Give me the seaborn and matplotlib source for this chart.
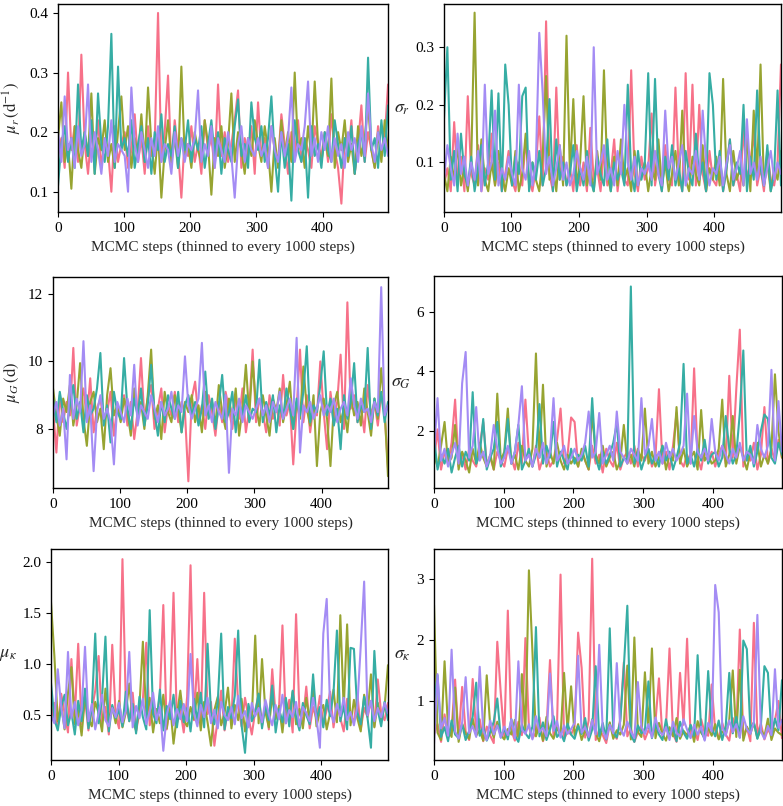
import numpy as np
import pandas as pd
import matplotlib
matplotlib.use('Agg')
import matplotlib.pyplot as plt
import seaborn as sns

# MCMC traces, one value every ~5 thinned steps per chain
CHAINS = ['chain 1', 'chain 2', 'chain 3', 'chain 4']

mu_r = [
    [0.16,0.19,0.14,0.30,0.17,0.21,0.15,0.33,0.18,0.13,0.20,0.16,0.22,0.14,0.19,0.17,0.10,0.21,0.15,0.18,
     0.20,0.14,0.17,0.23,0.15,0.19,0.13,0.21,0.16,0.18,0.40,0.15,0.20,0.295,0.14,0.22,0.17,0.09,0.19,0.16,
     0.21,0.15,0.18,0.13,0.22,0.17,0.19,0.14,0.28,0.16,0.20,0.15,0.18,0.22,0.27,0.14,0.19,0.16,0.21,0.13,
     0.25,0.16,0.19,0.14,0.21,0.17,0.15,0.23,0.18,0.13,0.20,0.16,0.22,0.15,0.19,0.17,0.14,0.21,0.18,0.16,
     0.20,0.15,0.23,0.17,0.14,0.08,0.19,0.16,0.22,0.13,0.18,0.245,0.15,0.20,0.17,0.14,0.21,0.16,0.19,0.28],
    [0.19,0.25,0.15,0.18,0.105,0.21,0.17,0.14,0.20,0.16,0.265,0.13,0.19,0.17,0.22,0.15,0.18,0.14,0.20,0.26,
     0.17,0.21,0.14,0.19,0.16,0.23,0.15,0.275,0.18,0.13,0.20,0.09,0.17,0.22,0.15,0.19,0.14,0.31,0.16,0.18,
     0.14,0.20,0.17,0.15,0.22,0.18,0.095,0.19,0.16,0.21,0.14,0.18,0.265,0.15,0.20,0.17,0.13,0.19,0.16,0.22,
     0.18,0.15,0.21,0.17,0.10,0.19,0.14,0.22,0.16,0.20,0.15,0.30,0.17,0.19,0.14,0.21,0.16,0.285,0.18,0.15,
     0.19,0.16,0.29,0.14,0.20,0.17,0.22,0.15,0.18,0.13,0.21,0.16,0.19,0.245,0.17,0.14,0.20,0.15,0.22,0.17],
    [0.11,0.18,0.21,0.15,0.19,0.14,0.28,0.17,0.20,0.16,0.22,0.13,0.265,0.18,0.15,0.21,0.365,0.14,0.31,0.17,
     0.19,0.16,0.22,0.14,0.18,0.21,0.15,0.19,0.13,0.20,0.17,0.23,0.15,0.18,0.16,0.21,0.14,0.19,0.17,0.22,
     0.15,0.19,0.17,0.21,0.14,0.18,0.22,0.16,0.20,0.13,0.19,0.17,0.15,0.21,0.255,0.16,0.18,0.14,0.25,0.19,
     0.17,0.21,0.15,0.19,0.26,0.16,0.10,0.20,0.14,0.18,0.085,0.22,0.17,0.15,0.19,0.09,0.21,0.16,0.18,0.14,
     0.20,0.17,0.15,0.22,0.18,0.14,0.19,0.16,0.21,0.13,0.18,0.20,0.15,0.325,0.17,0.19,0.14,0.22,0.16,0.245],
    [0.20,0.15,0.26,0.17,0.19,0.14,0.21,0.16,0.18,0.28,0.15,0.20,0.17,0.13,0.19,0.16,0.22,0.15,0.18,0.17,
     0.16,0.10,0.275,0.18,0.15,0.20,0.17,0.14,0.19,0.16,0.21,0.15,0.18,0.17,0.13,0.20,0.16,0.19,0.15,0.18,
     0.17,0.19,0.27,0.15,0.18,0.16,0.21,0.14,0.19,0.17,0.15,0.20,0.16,0.09,0.18,0.21,0.15,0.19,0.17,0.16,
     0.19,0.16,0.18,0.14,0.21,0.17,0.15,0.20,0.16,0.19,0.275,0.15,0.18,0.17,0.21,0.285,0.16,0.19,0.15,0.20,
     0.17,0.21,0.15,0.19,0.16,0.18,0.14,0.20,0.17,0.19,0.15,0.21,0.16,0.265,0.18,0.15,0.20,0.17,0.19,0.16],
]

sigma_r = [
    [0.06,0.09,0.05,0.17,0.07,0.11,0.05,0.215,0.08,0.06,0.13,0.05,0.09,0.07,0.15,0.06,0.10,0.05,0.08,0.12,
     0.07,0.05,0.10,0.06,0.14,0.07,0.05,0.09,0.18,0.06,0.345,0.08,0.05,0.23,0.07,0.11,0.06,0.09,0.05,0.13,
     0.06,0.10,0.05,0.16,0.07,0.09,0.05,0.12,0.06,0.08,0.14,0.05,0.10,0.07,0.06,0.26,0.08,0.05,0.11,0.07,
     0.09,0.185,0.06,0.10,0.05,0.13,0.07,0.06,0.23,0.08,0.05,0.255,0.07,0.235,0.06,0.20,0.08,0.05,0.12,0.07,
     0.06,0.11,0.05,0.09,0.14,0.06,0.08,0.05,0.16,0.07,0.10,0.15,0.06,0.09,0.05,0.12,0.07,0.06,0.10,0.27],
    [0.08,0.05,0.11,0.07,0.13,0.06,0.09,0.05,0.10,0.36,0.06,0.14,0.07,0.05,0.10,0.06,0.12,0.08,0.05,0.09,
     0.06,0.12,0.05,0.08,0.15,0.06,0.10,0.07,0.05,0.11,0.25,0.07,0.09,0.05,0.13,0.06,0.32,0.08,0.21,0.06,
     0.10,0.215,0.06,0.09,0.05,0.12,0.07,0.26,0.08,0.05,0.11,0.06,0.14,0.07,0.09,0.05,0.12,0.06,0.08,0.10,
     0.05,0.09,0.07,0.14,0.06,0.10,0.05,0.08,0.12,0.06,0.19,0.07,0.05,0.11,0.08,0.06,0.13,0.05,0.09,0.07,
     0.11,0.06,0.245,0.08,0.05,0.12,0.07,0.09,0.06,0.15,0.05,0.19,0.08,0.27,0.06,0.10,0.05,0.09,0.07,0.12],
    [0.175,0.30,0.07,0.12,0.05,0.15,0.08,0.06,0.11,0.05,0.09,0.13,0.06,0.10,0.225,0.07,0.22,0.05,0.27,0.20,
     0.06,0.11,0.08,0.215,0.23,0.05,0.10,0.07,0.12,0.06,0.09,0.21,0.05,0.14,0.07,0.10,0.06,0.08,0.13,0.05,
     0.09,0.06,0.12,0.07,0.05,0.11,0.08,0.06,0.14,0.05,0.10,0.07,0.09,0.06,0.235,0.08,0.05,0.12,0.07,0.10,
     0.255,0.06,0.245,0.08,0.05,0.11,0.07,0.13,0.06,0.09,0.05,0.12,0.08,0.06,0.15,0.07,0.10,0.05,0.255,0.20,
     0.07,0.12,0.05,0.09,0.14,0.06,0.10,0.08,0.20,0.05,0.11,0.07,0.225,0.09,0.06,0.13,0.05,0.08,0.225,0.06],
    [0.07,0.13,0.09,0.06,0.15,0.08,0.11,0.06,0.10,0.07,0.12,0.05,0.235,0.08,0.10,0.19,0.06,0.09,0.07,0.11,
     0.08,0.06,0.235,0.09,0.07,0.12,0.06,0.10,0.325,0.22,0.08,0.11,0.06,0.09,0.13,0.07,0.10,0.06,0.08,0.12,
     0.09,0.07,0.11,0.06,0.30,0.08,0.10,0.13,0.07,0.09,0.06,0.12,0.08,0.20,0.10,0.07,0.11,0.06,0.09,0.08,
     0.10,0.07,0.12,0.08,0.06,0.19,0.09,0.11,0.07,0.10,0.13,0.06,0.09,0.08,0.12,0.07,0.19,0.10,0.06,0.09,
     0.08,0.11,0.06,0.10,0.13,0.07,0.09,0.12,0.06,0.175,0.08,0.10,0.07,0.11,0.06,0.09,0.12,0.07,0.10,0.08],
]

mu_G = [
    [8.6,7.3,9.0,8.2,8.8,8.4,10.4,8.1,8.7,9.2,8.3,9.5,7.9,8.6,8.9,8.2,8.5,9.1,7.8,8.7,
     8.4,9.0,8.1,8.8,7.7,8.5,10.1,8.3,8.9,9.3,8.0,8.6,9.2,7.9,8.7,8.4,9.1,8.2,8.8,8.5,
     6.45,8.9,9.4,8.3,8.7,8.0,9.0,8.5,7.8,8.8,8.2,9.1,8.6,8.0,8.9,8.3,9.2,7.9,8.6,10.35,
     8.2,8.9,8.5,7.9,9.0,8.3,8.7,8.1,9.6,8.4,8.8,6.95,8.6,10.35,8.2,9.0,7.9,8.7,8.4,10.0,
     8.5,7.4,9.1,8.3,8.8,10.2,8.0,11.75,8.6,9.0,8.2,8.7,7.9,9.3,8.4,8.8,8.1,9.0,8.5,6.85],
    [9.2,8.4,7.8,8.9,8.5,9.3,8.1,8.7,9.95,8.3,7.5,8.8,9.1,8.2,8.6,7.4,9.0,9.8,8.4,8.7,
     8.2,8.9,8.5,7.8,9.2,8.4,8.8,8.0,9.0,10.35,8.3,8.7,7.7,9.1,8.5,8.2,9.0,8.6,7.9,8.8,
     8.5,9.0,8.2,8.7,7.9,9.1,8.4,8.8,8.1,9.3,8.5,8.0,8.9,8.3,9.2,7.8,8.6,9.9,8.4,10.0,
     8.7,8.1,9.0,8.4,7.8,8.9,8.5,9.2,8.2,8.7,9.4,8.0,8.8,8.3,9.85,8.6,8.1,9.0,6.9,8.5,
     8.9,8.3,6.9,8.7,9.1,8.2,8.6,7.9,9.0,8.4,8.8,8.1,9.2,8.5,7.8,8.9,8.3,9.8,8.6,6.6],
    [8.9,8.2,9.1,8.5,8.0,8.7,9.3,8.3,8.8,7.9,9.0,8.4,8.6,9.2,10.25,8.1,8.7,7.6,9.1,8.5,
     8.3,10.1,8.6,8.0,8.9,8.4,9.2,8.1,8.7,9.9,8.5,7.8,8.8,8.2,9.0,8.6,8.3,9.1,7.9,8.7,
     9.0,8.4,8.8,8.1,8.6,9.7,8.3,8.9,8.0,8.7,9.6,8.2,8.5,9.1,7.9,8.8,8.4,9.0,8.2,8.6,
     8.5,10.05,8.2,8.8,8.4,9.0,7.9,8.7,8.3,9.2,8.6,8.0,8.9,8.4,9.1,10.45,8.2,8.7,8.5,9.3,
     10.3,8.4,8.9,8.1,8.6,7.4,9.0,8.3,8.8,9.95,8.2,8.7,8.5,10.4,8.0,8.9,8.4,9.1,8.2,8.8],
    [8.4,8.8,8.1,8.6,7.1,9.6,8.3,8.9,8.5,10.6,8.2,8.7,6.75,8.5,9.0,8.3,8.6,8.2,6.95,8.8,
     8.5,8.2,8.9,8.4,9.9,8.1,8.7,8.5,8.3,9.0,8.6,8.2,8.8,8.4,8.6,9.1,8.3,8.7,8.5,10.15,
     8.7,8.3,8.6,8.9,10.55,8.4,8.7,8.2,8.8,8.5,8.3,9.0,6.7,8.6,8.4,8.9,8.2,8.7,8.5,8.3,
     8.6,8.9,8.4,8.7,8.2,8.8,8.5,9.1,8.3,8.6,8.9,8.4,10.7,7.3,8.7,8.5,8.8,8.3,8.6,9.0,
     8.4,8.7,8.5,8.9,8.2,8.6,8.8,8.4,9.5,8.7,8.3,8.9,8.5,8.6,8.2,8.8,8.5,12.2,8.4,8.7],
]

sigma_G = [
    [1.0,2.05,0.7,1.3,0.9,1.6,3.05,0.8,1.2,0.7,1.4,1.0,0.8,1.5,2.3,0.9,1.1,0.7,1.3,1.0,
     0.8,1.4,1.1,0.7,1.6,0.9,3.05,1.2,0.8,1.5,0.7,1.1,1.3,0.8,1.0,1.7,2.75,0.9,1.2,2.45,
     2.3,0.8,1.3,1.0,0.7,1.5,0.9,1.2,0.6,1.4,1.0,0.8,1.6,0.7,1.1,1.3,0.9,1.5,0.8,1.2,
     1.0,1.4,0.8,1.1,3.4,0.9,1.3,0.7,1.5,2.6,1.0,0.8,1.2,0.9,4.1,1.1,0.7,1.4,1.0,1.3,
     0.8,1.2,1.5,0.9,3.85,1.1,3.4,5.4,0.8,1.3,1.0,1.6,0.7,1.2,2.8,0.9,1.4,1.0,1.7,1.1],
    [1.2,0.8,1.5,2.3,0.9,1.1,2.2,0.7,1.3,1.0,0.6,1.4,0.9,1.6,1.1,0.8,1.2,0.7,3.25,1.0,
     1.3,2.75,0.9,1.2,0.7,1.5,1.0,0.8,1.4,4.6,1.1,3.55,0.8,1.3,0.9,1.6,1.0,0.7,1.2,0.9,
     1.1,0.8,1.4,1.0,0.7,2.6,1.2,0.9,1.5,0.8,1.1,1.3,0.7,1.0,2.2,0.9,1.2,0.8,1.4,1.0,
     2.75,0.9,1.3,0.8,1.1,1.5,0.7,1.2,1.0,2.8,0.9,1.4,0.8,1.1,1.3,0.7,2.7,1.0,1.2,0.9,
     1.0,1.4,3.05,0.8,1.2,2.5,0.9,1.5,1.1,0.7,1.3,1.0,1.6,0.8,1.2,0.9,1.4,3.9,2.0,1.1],
    [1.8,0.7,1.2,0.9,1.4,0.6,1.1,1.5,0.8,1.3,1.0,3.3,0.9,1.2,2.4,0.7,1.1,1.4,2.3,0.8,
     1.2,2.4,0.9,1.3,2.2,0.7,1.0,1.4,0.8,1.2,2.9,0.9,1.5,1.1,2.3,0.8,1.3,1.0,0.7,1.4,
     0.9,1.2,1.0,1.5,0.8,3.1,1.1,0.7,1.3,0.9,1.2,1.6,2.25,0.8,1.1,1.0,6.85,0.9,1.3,0.7,
     1.1,1.4,0.9,1.2,0.8,1.5,1.0,1.3,0.7,1.1,1.6,4.25,0.9,1.2,0.8,1.4,1.0,1.7,0.9,1.2,
     1.3,0.8,1.1,2.5,1.4,0.9,1.2,2.6,4.7,1.0,1.5,0.8,1.3,2.0,2.55,2.4,1.1,0.9,1.6,1.2],
    [1.3,3.1,1.0,1.4,0.8,1.2,1.6,0.9,3.6,4.65,1.1,1.5,2.8,1.0,1.3,0.8,1.2,2.2,1.4,0.9,
     1.1,1.5,0.9,1.3,2.2,3.5,1.0,1.2,0.8,1.4,1.1,1.6,0.9,1.3,3.1,1.0,1.2,1.5,0.9,1.1,
     1.4,1.0,1.2,1.6,2.65,1.1,1.3,2.6,0.9,1.2,1.5,1.0,2.65,1.3,1.1,0.9,1.4,1.2,1.0,3.1,
     1.2,1.5,2.4,1.0,1.3,0.9,1.6,1.1,1.4,1.0,1.2,1.5,3.25,0.9,2.5,1.3,1.1,1.4,1.0,2.4,
     1.3,1.0,1.5,1.2,0.9,1.4,1.1,1.6,1.0,1.3,1.2,0.9,2.2,1.4,1.1,1.5,4.05,1.0,3.0,1.3],
]

mu_kappa = [
    [0.45,0.62,0.38,0.71,0.52,0.33,1.05,0.48,1.20,0.41,0.66,0.35,0.55,0.74,1.08,0.43,0.58,0.31,1.19,0.50,
     0.37,2.03,0.59,0.44,0.72,0.34,0.53,0.65,1.21,0.40,0.57,0.46,0.70,1.58,0.36,0.61,1.70,0.42,0.55,0.33,
     0.68,1.97,0.45,1.05,0.38,1.70,0.51,0.63,0.20,0.47,0.74,0.35,0.56,0.43,1.25,0.60,0.39,0.67,0.48,0.31,
     0.54,0.71,0.40,0.62,0.36,0.95,0.49,0.57,1.38,0.42,0.65,0.33,1.49,0.52,0.44,0.78,0.37,0.58,0.46,0.69,
     0.41,0.55,0.73,0.38,0.60,0.47,0.34,0.66,0.50,0.43,0.71,0.36,0.57,0.48,0.64,0.39,0.85,0.52,0.45,0.62],
    [1.61,1.08,0.44,0.60,0.36,0.72,0.97,0.41,0.55,0.30,0.68,0.47,0.39,0.63,0.52,0.34,0.76,0.45,0.58,0.42,
     0.64,0.38,0.53,0.81,0.44,0.35,0.59,1.22,0.48,0.67,0.33,0.56,0.42,0.70,0.37,0.61,0.22,0.50,0.74,0.45,
     0.39,0.58,0.46,0.72,0.35,0.63,0.43,0.20,0.55,0.68,0.40,0.52,0.77,0.37,0.60,0.45,0.66,0.34,0.57,0.48,
     1.28,0.42,1.05,0.53,0.38,0.69,0.46,0.59,0.33,0.64,0.50,0.73,0.41,0.56,0.37,0.67,0.44,0.80,0.39,0.54,
     0.60,0.36,0.52,0.75,0.43,1.48,0.56,1.39,0.40,0.65,0.47,0.34,0.70,0.51,0.90,0.38,0.62,0.45,0.58,0.99],
    [0.82,0.46,0.35,0.58,0.70,0.40,0.53,0.31,0.64,0.44,0.76,0.37,0.57,1.30,0.42,0.66,1.27,0.34,0.60,0.47,
     0.55,0.39,0.73,0.44,0.61,0.32,0.68,0.48,0.36,1.53,0.51,0.42,0.75,0.35,0.59,0.46,0.70,0.38,0.64,0.43,
     0.57,0.34,0.66,0.45,0.72,0.38,1.20,0.53,0.41,0.63,1.30,0.36,0.58,0.47,0.69,1.33,0.40,0.13,0.61,0.44,
     0.52,0.71,0.37,0.60,0.45,0.79,0.33,0.56,0.43,0.67,0.39,0.74,0.48,0.35,0.62,0.50,0.41,0.90,0.46,0.58,
     0.38,0.65,0.49,0.72,1.33,0.44,0.59,0.36,1.16,1.15,0.53,0.41,0.68,0.47,0.18,1.13,0.55,0.39,0.63,0.45],
    [0.50,0.42,0.95,0.58,0.37,1.12,0.47,0.63,0.40,0.55,1.17,0.44,0.61,0.36,0.52,0.70,0.45,0.39,0.57,0.48,
     0.62,0.43,0.54,1.12,0.38,0.59,0.47,0.66,0.41,0.53,0.72,0.45,0.58,0.15,0.50,0.64,0.40,0.56,0.46,0.61,
     0.44,1.10,0.52,0.39,0.60,0.48,0.67,0.42,0.55,0.37,0.63,0.50,0.45,0.58,0.41,0.69,0.47,0.54,0.38,0.62,
     0.49,0.57,0.43,0.65,0.51,0.40,0.60,0.46,0.70,0.42,0.55,0.48,0.63,0.39,0.58,0.52,0.44,0.67,0.47,0.18,
     1.30,1.64,0.56,0.43,0.61,0.49,0.67,0.45,0.53,0.40,0.59,1.18,1.81,0.50,0.64,0.44,0.57,0.48,0.62,0.52],
]

sigma_kappa = [
    [0.45,0.62,0.33,0.78,0.41,0.55,1.35,0.38,1.23,0.50,0.36,1.36,0.47,0.70,0.34,0.58,0.43,0.31,1.97,1.12,
     0.40,2.48,0.52,0.35,0.66,0.44,2.03,0.57,0.39,0.48,0.73,0.34,0.55,1.67,0.42,0.61,3.07,0.37,0.50,0.45,
     0.58,2.12,1.54,0.40,0.68,3.33,0.36,0.53,0.44,0.31,0.62,0.47,0.38,0.71,1.63,0.42,0.55,0.33,0.49,0.60,
     0.37,0.52,0.44,0.66,1.37,0.39,0.58,1.86,0.46,0.33,1.46,0.61,2.02,0.41,0.54,0.36,0.70,0.48,0.43,1.27,
     0.51,0.38,0.64,0.45,0.35,0.72,0.49,2.17,0.40,0.57,0.34,2.28,0.46,0.63,0.37,0.53,0.44,0.68,1.00,0.39],
    [2.57,0.48,0.36,1.65,0.55,0.41,1.22,0.33,0.63,0.46,0.38,0.71,0.43,0.52,0.35,1.42,0.58,0.40,0.66,0.44,
     0.37,0.54,0.45,0.69,0.39,1.44,0.50,3.14,1.81,0.42,0.60,0.35,0.74,0.47,0.38,0.56,0.43,1.46,0.51,1.24,
     0.44,0.62,0.36,0.53,0.40,0.70,0.47,0.34,0.58,0.43,0.65,0.38,0.52,0.45,0.61,1.58,0.37,2.04,0.49,0.41,
     1.47,0.55,1.86,0.39,0.64,0.46,0.35,0.57,0.42,0.72,0.38,0.51,0.44,0.60,0.33,0.67,0.48,0.40,0.56,0.43,
     0.62,0.37,0.50,0.45,0.69,1.50,0.41,1.51,0.35,0.58,0.46,0.64,0.39,0.53,0.42,0.71,0.36,0.55,0.48,0.44],
    [0.95,1.42,0.41,0.57,0.34,0.68,0.45,0.39,0.62,0.36,0.51,0.74,1.30,0.43,0.58,0.35,0.49,0.66,1.04,0.40,
     0.55,0.37,0.70,0.44,0.33,0.61,0.47,0.39,0.58,2.21,0.42,0.65,0.36,0.53,0.75,0.41,0.48,0.34,0.63,0.45,
     0.38,0.59,0.46,0.72,0.35,0.53,1.57,0.42,0.64,0.37,2.19,0.49,0.40,0.67,1.55,2.56,0.44,0.33,0.60,0.47,
     0.52,1.32,0.39,0.63,0.45,0.36,0.70,0.41,0.57,0.34,0.66,0.48,0.38,0.61,0.43,1.75,0.51,0.37,1.49,0.55,
     0.42,0.68,0.36,0.59,1.46,0.47,0.74,0.40,1.99,1.85,0.53,0.65,0.38,0.60,1.57,1.46,0.44,0.71,0.52,1.34],
    [0.30,1.44,0.55,0.72,0.43,1.84,0.50,0.38,0.64,1.39,0.47,0.59,0.41,1.56,0.52,0.36,0.68,0.45,0.60,0.40,
     0.58,0.44,0.70,0.39,1.65,0.53,0.46,0.62,0.37,0.75,0.49,0.56,0.42,1.45,0.51,0.67,0.40,0.60,0.46,0.54,
     0.64,1.74,0.48,0.57,0.41,0.69,0.45,1.92,0.52,0.38,0.61,0.47,1.62,0.55,0.43,0.66,0.50,0.39,1.31,0.58,
     0.46,0.62,0.40,0.73,0.51,0.44,0.57,0.36,0.66,0.48,0.42,0.70,0.53,0.39,0.61,0.45,0.58,0.35,0.64,0.50,
     2.90,2.45,0.57,0.43,0.68,0.49,0.62,0.40,0.75,0.54,0.46,0.65,2.41,0.50,0.38,0.59,0.44,1.52,0.56,0.69],
]

N_STEPS = 500
XTICKS = [0, 100, 200, 300, 400]
XLABEL = 'MCMC steps (thinned to every 1000 steps)'

# (data, ylabel, rotate label?, ylim, yticks, axes rect in figure fraction)
PANELS = [
    (mu_r, r'$\mu_r\,(\mathrm{d}^{-1})$', True, (0.066, 0.415), [0.1, 0.2, 0.3, 0.4],
     [0.0741, 0.737, 0.4215, 0.258]),
    (sigma_r, r'$\sigma_r$', False, (0.014, 0.375), [0.1, 0.2, 0.3],
     [0.567, 0.737, 0.4304, 0.258]),
    (mu_G, r'$\mu_G\,(\mathrm{d})$', True, (6.25, 12.5), [8, 10, 12],
     [0.0677, 0.3945, 0.4278, 0.2618]),
    (sigma_G, r'$\sigma_G$', False, (0.08, 7.2), [2, 4, 6],
     [0.5543, 0.3945, 0.4444, 0.2630]),
    (mu_kappa, r'$\mu_\kappa$', False, (0.06, 2.13), [0.5, 1.0, 1.5, 2.0],
     [0.0651, 0.0571, 0.4304, 0.2618]),
    (sigma_kappa, r'$\sigma_\kappa$', False, (0.033, 3.49), [1, 2, 3],
     [0.5543, 0.0571, 0.4444, 0.2618]),
]

sns.set_style('ticks')
plt.rcParams['font.family'] = ['Liberation Serif', 'DejaVu Serif']
plt.rcParams['mathtext.fontset'] = 'stix'
plt.rcParams['axes.edgecolor'] = 'black'
plt.rcParams['axes.linewidth'] = 1.0
plt.rcParams['xtick.color'] = 'black'
plt.rcParams['ytick.color'] = 'black'

palette = sns.color_palette('husl', len(CHAINS))


def trace_frame(chains):
    rows = []
    for name, vals in zip(CHAINS, chains):
        steps = np.linspace(0, N_STEPS - 1, len(vals))
        rows.append(pd.DataFrame({'step': steps, 'value': vals, 'chain': name}))
    return pd.concat(rows, ignore_index=True)


fig = plt.figure(figsize=(7.83, 8.06), dpi=100)

for data, ylab, rotate, ylim, yticks, rect in PANELS:
    ax = fig.add_axes(rect)
    df = trace_frame(data)
    sns.lineplot(data=df, x='step', y='value', hue='chain', palette=palette,
                 estimator=None, sort=False, legend=False, lw=1.5, ax=ax)
    ax.set_xlim(0, N_STEPS - 1)
    ax.set_ylim(*ylim)
    ax.set_xticks(XTICKS)
    ax.set_yticks(yticks)
    ax.tick_params(labelsize=11, length=3.5, width=0.8)
    ax.set_xlabel(XLABEL, fontsize=11)
    if rotate:
        ax.set_ylabel(ylab, fontsize=12)
    else:
        ax.set_ylabel(ylab, fontsize=13, rotation=0, ha='right', va='center')
    for s in ax.spines.values():
        s.set_visible(True)
        s.set_color('black')

plt.savefig('out.png', dpi=100)
plt.close()
